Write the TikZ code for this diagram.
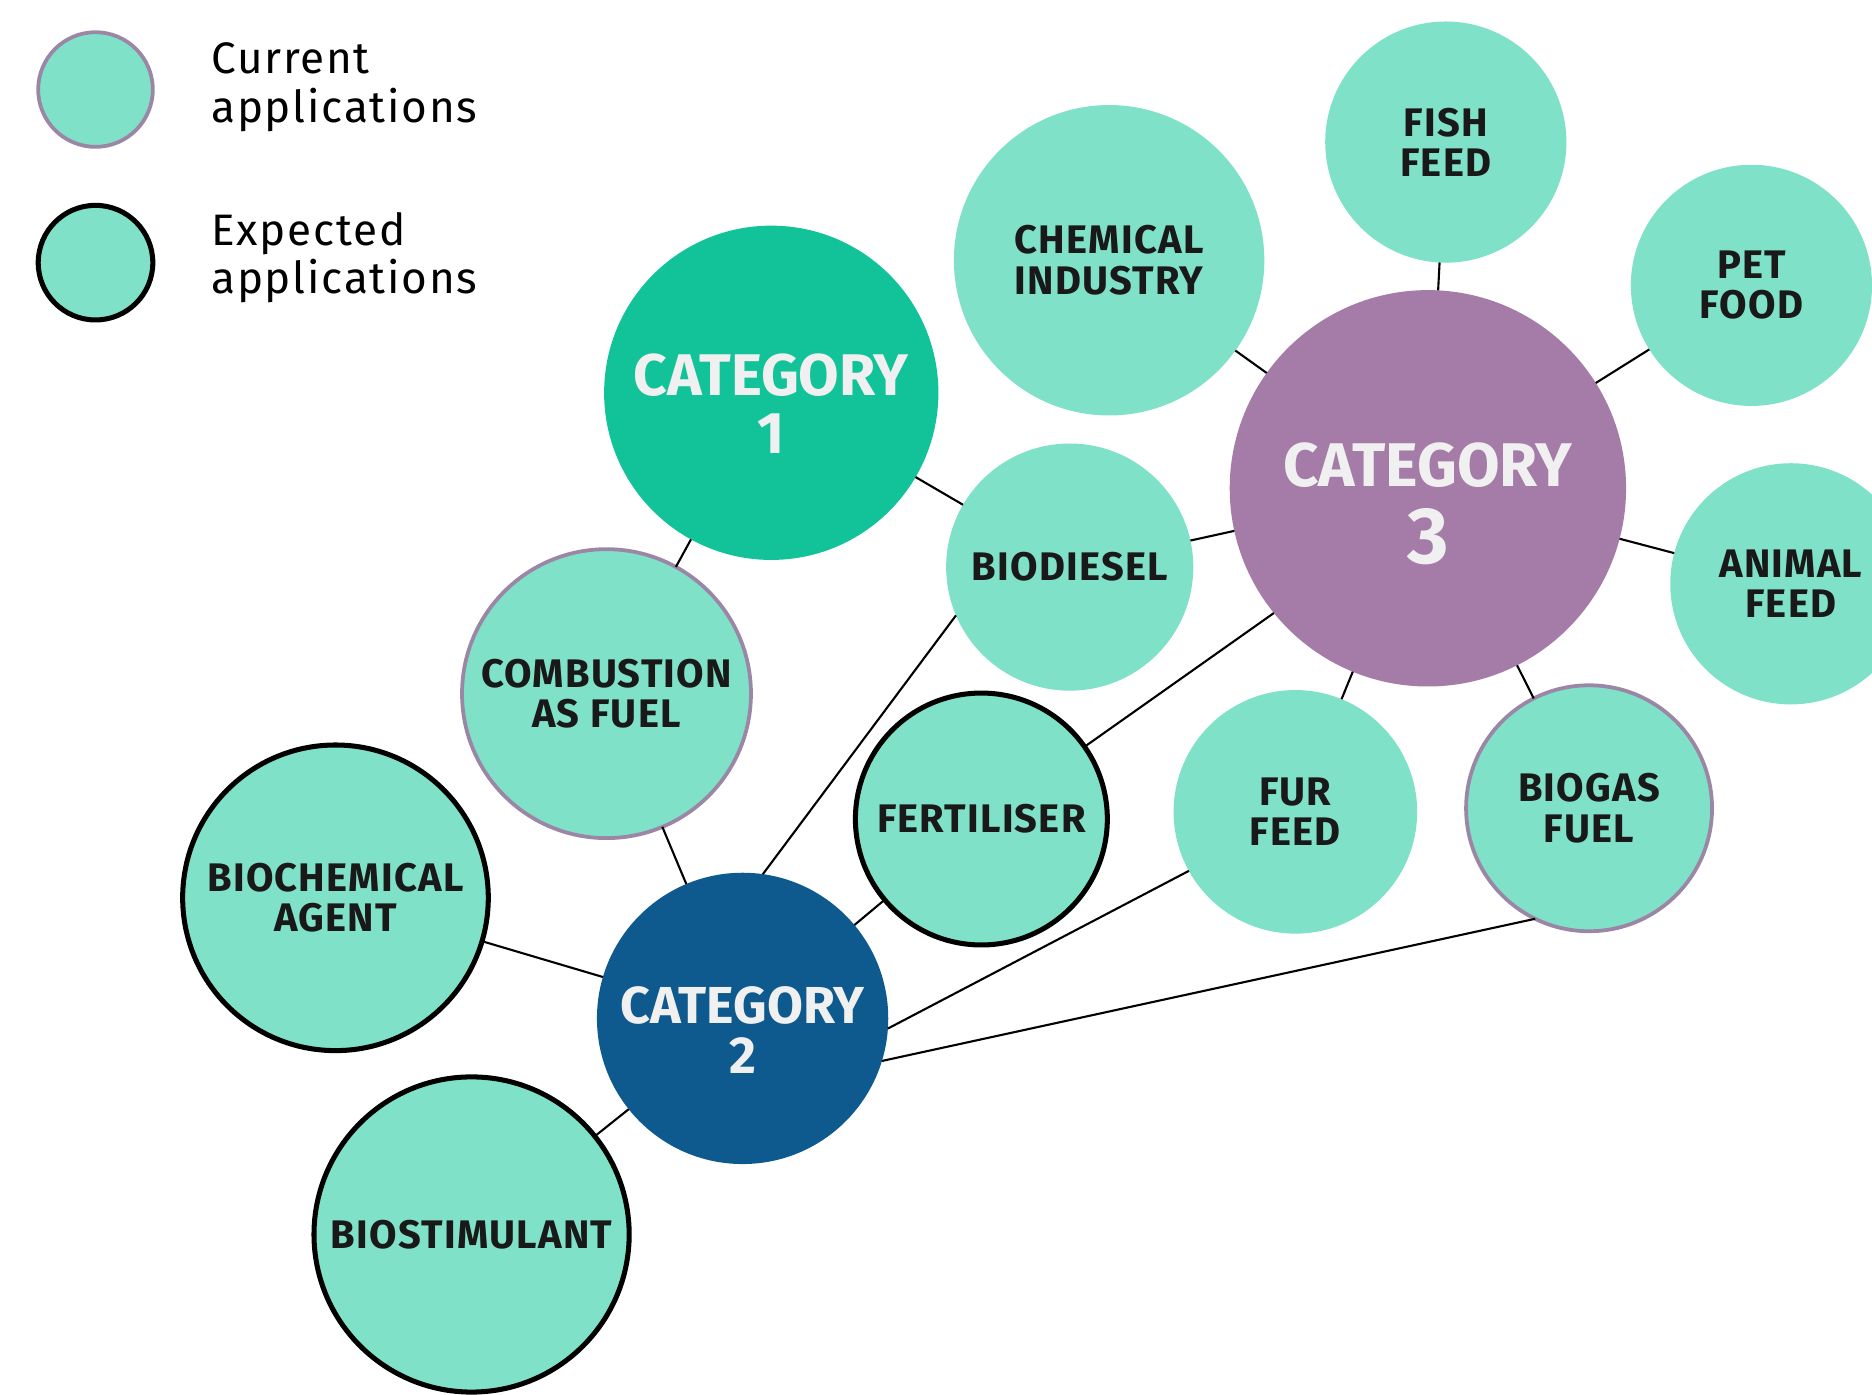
\documentclass[tikz,border=0pt]{standalone}
\usepackage{fontspec}
\setmainfont{Fira Sans}
\newfontfamily\capsfont[LetterSpace=3]{Fira Sans}
\newfontfamily\keyfont[LetterSpace=4]{Fira Sans}

\definecolor{catone}{HTML}{12C39A}
\definecolor{cattwo}{HTML}{0E5A8E}
\definecolor{catthree}{HTML}{A57BA8}
\definecolor{appfill}{HTML}{80E1C9}
\definecolor{nowline}{HTML}{9C86A6}

\begin{document}
\begin{tikzpicture}[
    every node/.style={circle, inner sep=0pt, outer sep=0pt, align=center},
    cat/.style={},
    cattext/.style={rectangle, text=white!94!black, font=\bfseries},
    app/.style={fill=appfill, text=black!90, font=\capsfont\bfseries\fontsize{9.5}{9.6}\selectfont},
    now/.style={app, draw=nowline, line width=0.9pt},
    soon/.style={app, draw=black, line width=1.2pt},
    keytext/.style={rectangle, anchor=west, align=left, font=\keyfont\fontsize{10.5}{11.5}\selectfont},
    link/.style={line width=0.5pt}]
  \useasboundingbox (0,0) rectangle (15.68,11.68);

  % legend
  \node[now, minimum size=0.96cm] (keynow) at (0.80,10.93) {};
  \node[soon, minimum size=0.96cm] (keysoon) at (0.80,9.48) {};
  \node[keytext] (keynowtxt) at (1.77,10.95) {Current\\applications};
  \node[keytext] (keysoontxt) at (1.77,9.52) {Expected\\applications};

  % categories, labels sit a little below the middle
  \node[cat, fill=catone, minimum size=2.80cm] (cat1) at (6.46,8.39) {};
  \node[cattext, font=\bfseries\fontsize{14}{13.7}\selectfont] (cat1txt) at ([yshift=-0.09cm]cat1.center) {CATEGORY\\1};
  \node[cat, fill=cattwo, minimum size=2.44cm] (cat2) at (6.22,3.15) {};
  \node[cattext, font=\bfseries\fontsize{12.4}{12}\selectfont] (cat2txt) at ([yshift=-0.10cm]cat2.center) {CATEGORY\\2};
  \node[cat, fill=catthree, minimum size=3.32cm] (cat3) at (11.96,7.59) {};
  \node[cattext, font=\bfseries\fontsize{14.7}{18.2}\selectfont] (cat3txt) at ([yshift=-0.13cm]cat3.center) {CATEGORY\\{\fontsize{19}{18.2}\selectfont 3}};

  % applications
  \node[app, minimum size=2.60cm] (chem) at (9.29,9.50) {CHEMICAL\\INDUSTRY};
  \node[app, minimum size=2.02cm] (fish) at (12.11,10.49) {FISH\\FEED};
  \node[app, minimum size=2.02cm] (pet) at (14.67,9.29) {PET\\FOOD};
  \node[app, minimum size=2.02cm] (animal) at (15.00,6.79) {ANIMAL\\FEED};
  \node[app, minimum size=2.07cm] (biodiesel) at (8.96,6.93) {BIODIESEL};
  \node[now, minimum size=2.42cm] (combust) at (5.08,5.87) {COMBUSTION\\AS FUEL};
  \node[soon, minimum size=2.11cm] (fert) at (8.22,4.82) {FERTILISER};
  \node[app, minimum size=2.04cm] (fur) at (10.85,4.88) {FUR\\FEED};
  \node[now, minimum size=2.06cm] (biogas) at (13.31,4.91) {BIOGAS\\FUEL};
  \node[soon, minimum size=2.56cm] (biochem) at (2.81,4.16) {BIOCHEMICAL\\AGENT};
  \node[soon, minimum size=2.64cm] (biostim) at (3.95,1.34) {BIOSTIMULANT};

  % links
  \draw[link] (cat1) -- (biodiesel);
  \draw[link] (cat1) -- (combust);
  \draw[link] (combust) -- (cat2);
  \draw[link] (cat2) -- (biochem);
  \draw[link] (cat2) -- (biostim);
  \draw[link] (cat2) -- (fert);
  \draw[link] (cat2.82) -- (biodiesel.-157);
  \draw[link] (cat2.-4) -- (fur.-151);
  \draw[link] (cat2.-17) -- (biogas.-116);
  \draw[link] (cat3.-141) -- (fert.35);
  \draw[link] (cat3) -- (biodiesel);
  \draw[link] (cat3) -- (chem);
  \draw[link] (cat3) -- (fish);
  \draw[link] (cat3) -- (pet);
  \draw[link] (cat3) -- (animal);
  \draw[link] (cat3) -- (fur);
  \draw[link] (cat3) -- (biogas);
\end{tikzpicture}
\end{document}
